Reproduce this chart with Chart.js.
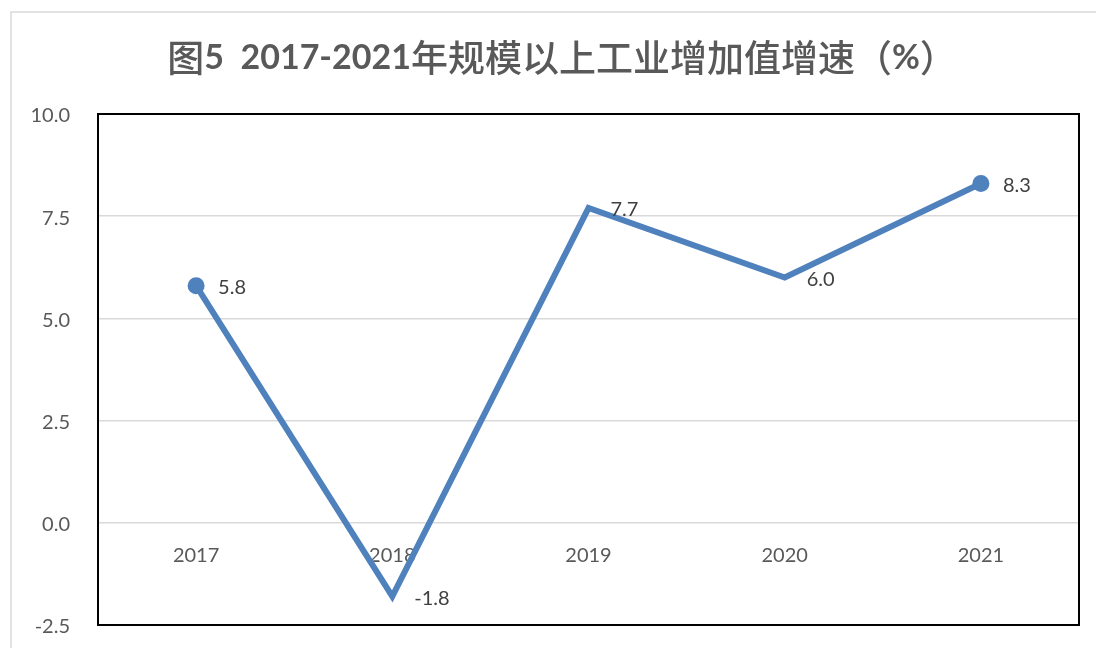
<!DOCTYPE html>
<html>
<head>
<meta charset="utf-8">
<script src="https://cdn.jsdelivr.net/npm/chart.js@4.4.1/dist/chart.umd.min.js"></script>
<style>
html, body { margin: 0; padding: 0; background: #fff; }
#wrap { width: 1096px; height: 648px; }
</style>
</head>
<body>
<div id="wrap"><canvas id="myChart" width="1096" height="648"></canvas></div>
<script>
const years = ['2017', '2018', '2019', '2020', '2021'];
const growth = [5.8, -1.8, 7.7, 6.0, 8.3];
const markerRadius = [8.5, 0, 0, 0, 8.5];
const yTicks = [-2.5, 0, 2.5, 5, 7.5, 10];
const titleText = '图5  2017-2021年规模以上工业增加值增速（%）';

const blue = '#4f81bd';
const grey = '#595959';

// outer frame + plot border
const framePlugin = {
    id: 'frame',
    beforeDraw(chart) {
        const c = chart.ctx;
        c.save();
        c.strokeStyle = '#d9d9d9';
        c.lineWidth = 1.5;
        c.beginPath();
        c.moveTo(11, 648);
        c.lineTo(11, 12);
        c.lineTo(1096, 12);
        c.stroke();
        c.restore();
    },
    beforeDatasetsDraw(chart) {
        const a = chart.chartArea;
        const c = chart.ctx;
        c.save();
        c.strokeStyle = '#000';
        c.lineWidth = 2;
        c.strokeRect(a.left, a.top, a.right - a.left, a.bottom - a.top);
        c.restore();
    }
};

// title with bold latin and regular CJK runs
const titlePlugin = {
    id: 'mixedTitle',
    afterDraw(chart) {
        const c = chart.ctx;
        const runs = titleText.match(/[\x00-\x7F]+|[^\x00-\x7F]+/g);
        const fontFor = r => /^[\x00-\x7F]+$/.test(r)
            ? 'bold 34px Lato, "Noto Sans"'
            : '500 37px "Noto Sans CJK SC"';
        c.save();
        let total = 0;
        runs.forEach(r => { c.font = fontFor(r); total += c.measureText(r).width; });
        let x = 562 - total / 2;
        c.fillStyle = grey;
        c.textBaseline = 'middle';
        c.textAlign = 'left';
        runs.forEach(r => {
            c.font = fontFor(r);
            c.fillText(r, x, 58);
            x += c.measureText(r).width;
        });
        c.restore();
    }
};

// value labels right of each point
const labelPlugin = {
    id: 'valueLabels',
    afterDatasetsDraw(chart) {
        const c = chart.ctx;
        const meta = chart.getDatasetMeta(0);
        c.save();
        c.font = '20px Lato, "Noto Sans"';
        c.fillStyle = '#404040';
        c.textBaseline = 'middle';
        c.textAlign = 'left';
        meta.data.forEach((pt, i) => {
            c.fillText(growth[i].toFixed(1), pt.x + 22, pt.y + 2);
        });
        c.restore();
    }
};

const ctx = document.querySelector('#myChart').getContext('2d');

const myChart = new Chart(ctx, {
    type: 'line',
    data: {
        labels: years,
        datasets: [{
            data: growth,
            borderColor: blue,
            backgroundColor: blue,
            borderWidth: 6,
            borderJoinStyle: 'miter',
            tension: 0,
            fill: false,
            pointRadius: markerRadius,
            pointHoverRadius: markerRadius,
            pointBackgroundColor: blue,
            pointBorderWidth: 0
        }]
    },
    options: {
        responsive: false,
        animation: false,
        events: [],
        layout: { padding: { top: 114, right: 17, bottom: 23, left: 0 } },
        plugins: {
            legend: { display: false },
            tooltip: { enabled: false },
            title: { display: false }
        },
        scales: {
            x: {
                position: { y: 0 },
                offset: true,
                afterFit: s => { s.height = 0; },
                grid: { display: false, drawTicks: false },
                border: { display: false },
                ticks: {
                    color: grey,
                    padding: 21,
                    maxRotation: 0,
                    font: { family: 'Lato, "Noto Sans"', size: 20 }
                }
            },
            y: {
                min: -2.5,
                max: 10,
                afterBuildTicks: s => { s.ticks = yTicks.map(v => ({ value: v })); },
                afterFit: s => { s.width = 98; s.paddingTop = 0; s.paddingBottom = 0; },
                grid: { color: '#d9d9d9', lineWidth: 1.5, drawTicks: false },
                border: { display: false },
                ticks: {
                    color: grey,
                    padding: 28,
                    labelOffset: 2,
                    font: { family: 'Lato, "Noto Sans"', size: 20 },
                    callback: v => Number(v).toFixed(1)
                }
            }
        }
    },
    plugins: [framePlugin, titlePlugin, labelPlugin]
});
</script>
</body>
</html>
